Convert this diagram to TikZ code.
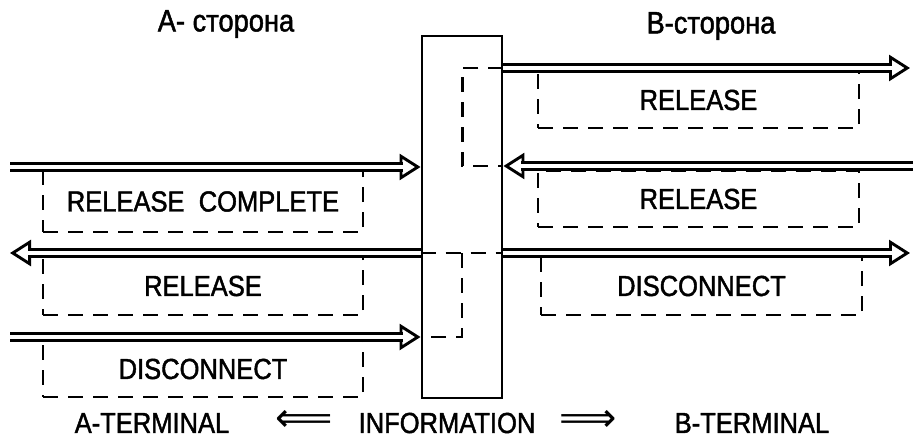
\documentclass[tikz,border=0pt]{standalone}
\usepackage{fontspec}
\setmainfont{Liberation Sans}[FakeStretch=0.88, FakeBold=1.5]
\newfontfamily\arrowfont{DejaVu Sans}
\usetikzlibrary{arrows.meta}

\tikzset{
    sighead/.style={line width=2.9pt, -{Triangle[open, length=21pt, width=26pt]}},
    sigline/.style={double, double distance=4.5pt, line width=2.9pt, shorten >=18pt},
    msgbox/.style={draw, line width=2.6pt, dash pattern=on 15pt off 10pt,
        minimum width=320pt, minimum height=58pt, inner sep=0pt,
        font=\fontsize{29}{32}\selectfont},
    proc/.style={draw, line width=2.9pt, minimum width=80pt, minimum height=362pt},
    link/.style={line width=2.6pt, dash pattern=on 15pt off 10pt},
    caption/.style={font=\fontsize{29}{32}\selectfont, inner sep=0pt},
    legarrow/.style={font=\arrowfont\fontsize{40}{42}\selectfont, inner sep=0pt},
}

% double signal line with open head
\newcommand{\sigarrow}[2]{%
    \draw[sighead] (#1) -- (#2);
    \draw[sigline] (#1) -- (#2);
}

\begin{document}
\begin{tikzpicture}[x=1pt, y=-1pt]
    \useasboundingbox (0,0) rectangle (913,439);

    % Side captions
    \node[caption, font=\fontsize{31}{34}\selectfont] (sideA) at (226,24) {A-\ сторона};
    \node[caption, font=\fontsize{31}{34}\selectfont] (sideB) at (711,26) {B-сторона};

    % Message boxes, A side
    \node[msgbox, minimum height=61pt] (relcA) at (203,201.5) {RELEASE \ COMPLETE};
    \node[msgbox] (relA) at (203,286) {RELEASE};
    \node[msgbox, minimum height=56pt] (discA) at (203,369) {DISCONNECT};

    % Message boxes, B side
    \node[msgbox, minimum width=321pt, minimum height=56pt] (relB1) at (698.5,100) {RELEASE};
    \node[msgbox, minimum width=321pt, minimum height=56pt] (relB2) at (698.5,199) {RELEASE};
    \node[msgbox, minimum width=321pt] (discB) at (701.5,286) {DISCONNECT};

    % Exchange in the middle
    \node[proc] (exch) at (462,217) {};

    % Free ends of the signals
    \coordinate (bOut1) at (910,68);
    \coordinate (bIn1)  at (913,166);
    \coordinate (aIn1)  at (10,167);
    \coordinate (aOut1) at (10,253);
    \coordinate (bOut2) at (910,253);
    \coordinate (aIn2)  at (10,337);

    % Internal links (dashed)
    \draw[link] (exch.east |- bOut1) -- ++(-41,0) |- (exch.east |- bIn1);
    \draw[link] (exch.west |- aOut1) -- (exch.east |- aOut1);
    \draw[link] (exch.center |- aOut1) |- (exch.west |- aIn2);

    % Signals
    \sigarrow{exch.east |- bOut1}{bOut1}
    \sigarrow{bIn1}{exch.east |- bIn1}
    \sigarrow{aIn1}{exch.west |- aIn1}
    \sigarrow{exch.west |- aOut1}{aOut1}
    \sigarrow{exch.east |- bOut2}{bOut2}
    \sigarrow{aIn2}{exch.west |- aIn2}

    % Bottom legend
    \node[caption] (termA) at (152,423) {A-TERMINAL};
    \node[legarrow] (toA) at (304,421) {⟸};
    \node[caption] (info) at (447,423) {INFORMATION};
    \node[legarrow] (toB) at (588,421) {⟹};
    \node[caption] (termB) at (752,423) {B-TERMINAL};
\end{tikzpicture}
\end{document}
